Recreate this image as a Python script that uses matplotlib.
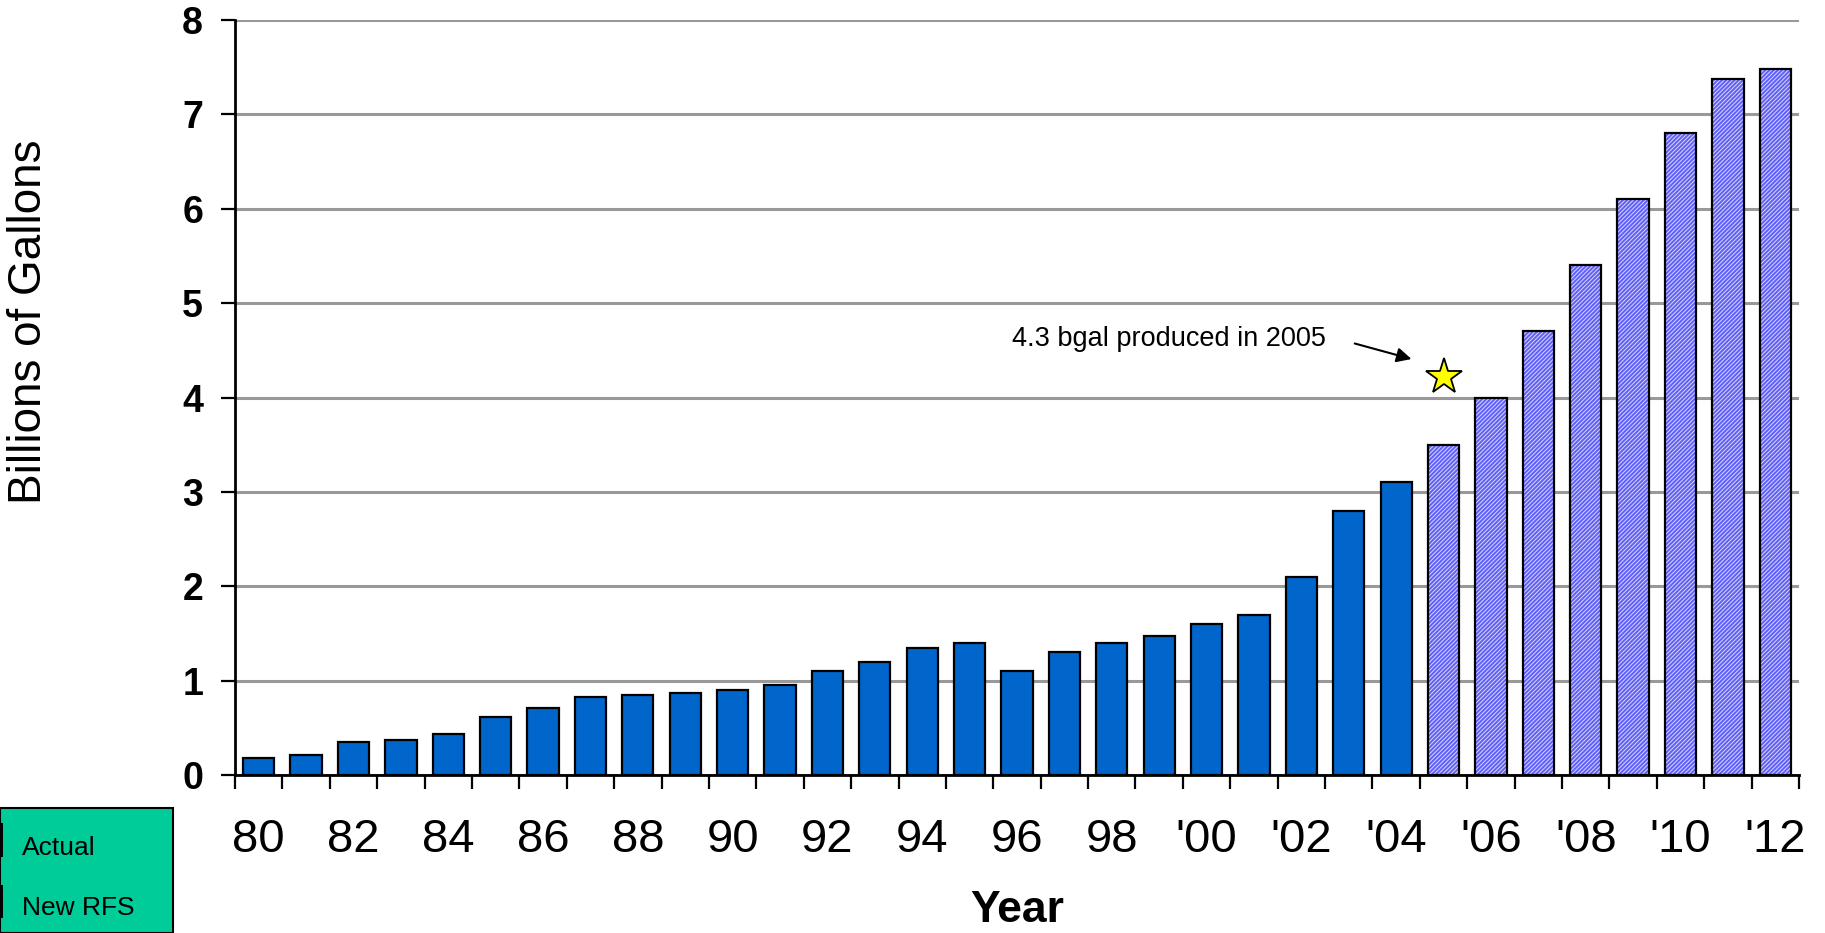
#!/usr/bin/env python3
"""Ethanol production: actual vs new RFS schedule, 1980-2012."""

import matplotlib
matplotlib.use("Agg")
import matplotlib.pyplot as plt
from matplotlib.patches import Rectangle

plt.rcParams["font.family"] = ["Liberation Sans", "DejaVu Sans"]
plt.rcParams["hatch.linewidth"] = 0.7

# --- data -------------------------------------------------------------
years = list(range(1980, 2013))
actual = [0.175, 0.215, 0.35, 0.375, 0.43, 0.61, 0.71, 0.83, 0.845, 0.87,
          0.9, 0.95, 1.1, 1.2, 1.35, 1.4, 1.1, 1.3, 1.4, 1.47,
          1.6, 1.7, 2.1, 2.8, 3.1]                      # 1980-2004
rfs = [3.5, 4.0, 4.7, 5.4, 6.1, 6.8, 7.38, 7.48]        # 2005-2012
tick_labels = ["80", "82", "84", "86", "88", "90", "92", "94", "96", "98",
               "'00", "'02", "'04", "'06", "'08", "'10", "'12"]
star_year = 2005
star_value = 4.22
note = "4.3 bgal produced in 2005"

ACTUAL_COLOR = "#0066CC"
RFS_COLOR = "#6060F8"

fig = plt.figure(figsize=(18.25, 9.33), dpi=100)
ax = fig.add_axes([235 / 1825, 1 - 775 / 933, 1564 / 1825, 755 / 933])

x_act = list(range(len(actual)))
x_rfs = [len(actual) + i for i in range(len(rfs))]

ax.bar(x_act, actual, width=0.66, color=ACTUAL_COLOR, edgecolor="black",
       linewidth=1.6, zorder=3)
# hatched fill, then a black outline on top
ax.bar(x_rfs, rfs, width=0.66, color=RFS_COLOR, edgecolor="#D8D8FF",
       hatch="////////", linewidth=0, zorder=3)
ax.bar(x_rfs, rfs, width=0.66, fill=False, edgecolor="black",
       linewidth=1.6, zorder=4)

# star + note
sx = years.index(star_year)
ax.plot([sx], [star_value], marker="*", markersize=27, color="#FFFF00",
        markeredgecolor="black", markeredgewidth=1.3, zorder=5, clip_on=False)
ax.annotate("", xy=(24.38, 4.40), xytext=(23.07, 4.58),
            arrowprops=dict(arrowstyle="-|>", color="black", lw=1.5,
                            mutation_scale=22), zorder=5)
ax.text(15.9, 4.62, note, fontsize=19.5, va="center", ha="left")

# axes styling
ax.set_xlim(-0.5, len(years) - 0.5)
ax.set_ylim(0, 8)
ax.set_yticks(range(0, 9))
ax.set_yticklabels([str(v) for v in range(0, 9)], fontsize=27,
                   fontweight="bold")
ax.tick_params(axis="y", length=10, width=1.6, pad=13)
ax.yaxis.grid(True, color="#999999", linewidth=2.2, zorder=0)
ax.set_axisbelow(True)

ax.set_xticks(range(0, len(years), 2))
ax.set_xticklabels(tick_labels, fontsize=34)
ax.tick_params(axis="x", which="major", length=0, pad=31)
ax.set_xticks([i - 0.5 for i in range(len(years) + 1)], minor=True)
ax.tick_params(axis="x", which="minor", length=10, width=1.6)

for side in ("top", "right"):
    ax.spines[side].set_visible(False)
for side in ("left", "bottom"):
    ax.spines[side].set_linewidth(2)

ax.text(0.5, -0.18, "Year", transform=ax.transAxes, ha="center",
        va="center", fontsize=32, fontweight="bold")
ax.text(-0.132, 0.6, "Billions of Gallons", transform=ax.transAxes,
        rotation=90, ha="center", va="center", fontsize=33)

# cut-off legend box in the bottom-left corner
fig.patches.append(Rectangle((0, 0), 173 / 1825, (933 - 808) / 933,
                             transform=fig.transFigure, facecolor="#00CC99",
                             edgecolor="black", linewidth=1.5, zorder=1))
for y0, y1 in ((823, 857), (885, 918)):
    fig.patches.append(Rectangle((0, 1 - y1 / 933), 3 / 1825, (y1 - y0) / 933,
                                 transform=fig.transFigure, facecolor="black",
                                 edgecolor="none", zorder=2))
fig.text(22 / 1825, 1 - 848 / 933, "Actual", fontsize=19, va="center",
         zorder=3)
fig.text(22 / 1825, 1 - 908 / 933, "New RFS", fontsize=19, va="center",
         zorder=3)

fig.savefig("out.png", dpi=100)
